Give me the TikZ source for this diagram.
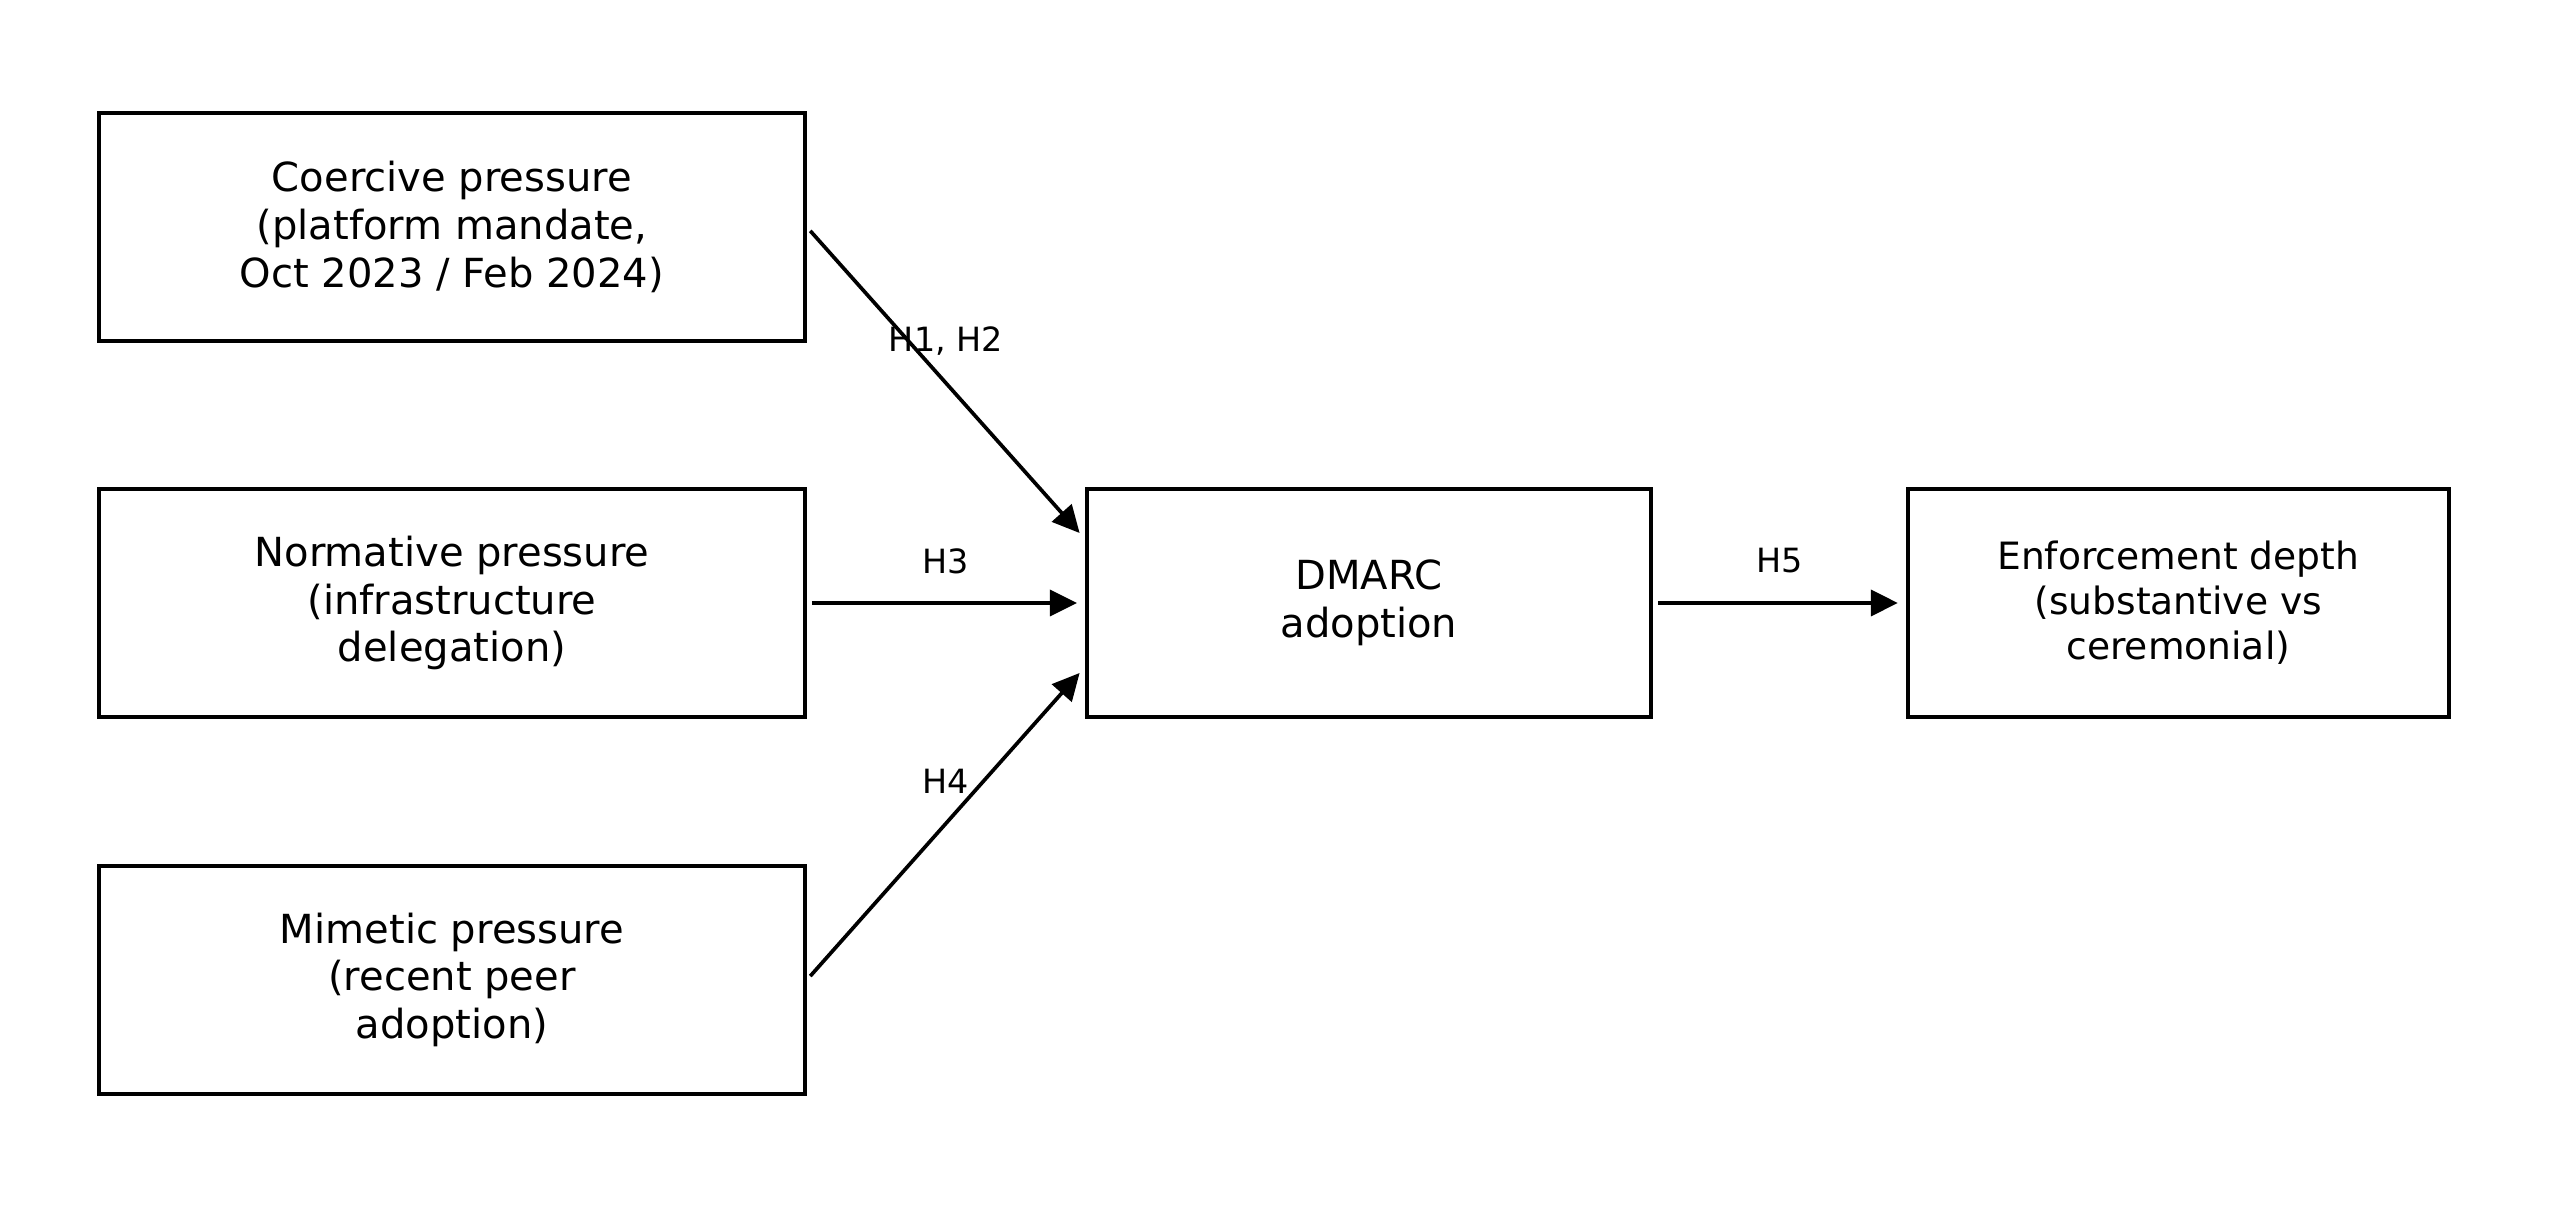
\documentclass[tikz,border=0pt]{standalone}
\usepackage{fontspec}
\setmainfont{DejaVu Sans}
\usetikzlibrary{positioning,arrows.meta}

\begin{document}
\begin{tikzpicture}[
  every node/.style={font=\fontsize{11.4}{13.6}\selectfont},
  %% construct box — plain black frame
  cb/.style={
    draw=black, line width=1.1pt, fill=white,
    minimum height=2.28cm,
    align=center, inner sep=2pt
  },
  %% hypothesis label above each path
  hl/.style={
    font=\fontsize{9.5}{11}\selectfont,
    inner sep=0pt
  },
  %% causal path arrows
  arr/.style={
    -{Triangle[length=0.27cm,width=0.26cm]},
    line width=1.05pt,
    shorten <=0.05cm, shorten >=0.08cm
  },
]
\useasboundingbox (0,0) rectangle (25.5,12.3);

%%── Institutional pressures (left column) ───────────────────────────────────
\node[cb, minimum width=7.06cm] (norm) at (4.52,6.27)
  {Normative pressure\\(infrastructure\\delegation)};
\node[cb, minimum width=7.06cm, above=1.44cm of norm] (coer)
  {Coercive pressure\\(platform mandate,\\Oct 2023 / Feb 2024)};
\node[cb, minimum width=7.06cm, below=1.45cm of norm] (mime)
  {Mimetic pressure\\(recent peer\\adoption)};

%%── Adoption and outcome ────────────────────────────────────────────────────
\node[cb, minimum width=5.64cm, right=2.78cm of norm] (dmarc)
  {DMARC\\adoption};
\node[cb, minimum width=5.41cm, right=2.53cm of dmarc,
      font=\fontsize{10.7}{12.8}\selectfont] (enf)
  {Enforcement depth\\(substantive vs\\ceremonial)};

%%── Hypothesised paths ──────────────────────────────────────────────────────
\foreach \s/\t/\dy/\lab in
  {coer/dmarc/0.64cm/{H1, H2}, norm/dmarc/0cm/H3,
   mime/dmarc/-0.64cm/H4, dmarc/enf/0cm/H5}
  \draw[arr] (\s.east) -- ([yshift=\dy]\t.west)
    node[hl, midway, yshift=0.42cm] {\lab};

\end{tikzpicture}
\end{document}
